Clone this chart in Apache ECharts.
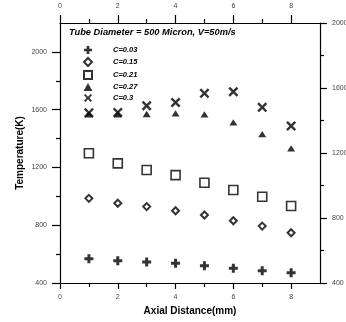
<!DOCTYPE html>
<html>
<head>
<meta charset="utf-8">
<script src="https://cdn.jsdelivr.net/npm/echarts@6/dist/echarts.min.js"></script>
<style>html,body{margin:0;padding:0;background:#fff}#c{width:346px;height:322px}</style>
</head>
<body>
<div id="c"></div>
<script>
// ---- data ----
var xValues = [1, 2, 3, 4, 5, 6, 7, 8];
var seriesNames = ['C=0.03', 'C=0.15', 'C=0.21', 'C=0.27', 'C=0.3'];
var c003 = [568, 554, 545, 536, 520, 502, 485, 471];
var c015 = [986, 952, 929, 900, 871, 831, 794, 748];
var c021 = [1298, 1228, 1182, 1147, 1094, 1044, 997, 933];
var c027 = [1567, 1567, 1570, 1574, 1567, 1512, 1431, 1332];
var c030 = [1578, 1581, 1627, 1650, 1713, 1724, 1616, 1487];
var xMajorTicks = [0, 2, 4, 6, 8];
var xMinorTicks = [1, 3, 5, 7];
var yMajorTicks = [400, 800, 1200, 1600, 2000];
var yMinorTicks = [600, 1000, 1400, 1800];
var titleText = 'Tube Diameter = 500 Micron, V=50m/s';

var FONT = 'Liberation Sans';
var symbols = [
  'path://M3,0H6V3H9V6H6V9H3V6H0V3H3Z',
  'path://M5,0L10,5L5,10L0,5Z',
  'path://M0,0H10V10H0Z',
  'path://M5,0L10,9L0,9Z',
  'path://M0,1.7L1.7,0L5,3.3L8.3,0L10,1.7L6.7,5L10,8.3L8.3,10L5,6.7L1.7,10L0,8.3L3.3,5Z'
];
var sizes = [[9, 9], [7, 7], [9, 9], [8, 7], [10, 10]];
var styles = [
  {color: '#000'},
  {color: '#fff', borderColor: '#000', borderWidth: 2},
  {color: '#fff', borderColor: '#000', borderWidth: 1.6},
  {color: '#000'},
  {color: '#000'}
];
var allData = [c003, c015, c021, c027, c030];

function pairs(ys) { return xValues.map(function (x, i) { return [x, ys[i]]; }); }
function plain(v) { return String(v); }

var lineStyle = {color: '#000', width: 1.2};
function mkAx(pos, min, max, ticks, len, labels, margin, extra) {
  var a = {
    type: 'value', position: pos, min: min, max: max, gridIndex: 0,
    splitLine: {show: false},
    axisLine: {show: !!labels, onZero: false, lineStyle: lineStyle},
    axisTick: {show: true, customValues: ticks, length: len, lineStyle: lineStyle},
    axisLabel: labels ? {show: true, customValues: labels, formatter: plain, fontSize: 7, color: '#444', margin: margin, fontFamily: FONT} : {show: false}
  };
  if (extra) for (var k in extra) a[k] = extra[k];
  return a;
}

var chart = echarts.init(document.getElementById('c'), null, {renderer: 'canvas'});
chart.setOption({
  animation: false,
  backgroundColor: '#fff',
  title: {
    text: titleText, left: 64, top: 23,
    textStyle: {fontSize: 9.3, fontWeight: 'bold', fontStyle: 'italic', fontFamily: FONT, color: '#000'}
  },
  legend: {
    orient: 'vertical', left: 78, top: 41,
    itemWidth: 40, itemHeight: 8, itemGap: 3,
    data: seriesNames,
    textStyle: {fontSize: 7.5, fontWeight: 'bold', fontStyle: 'italic', fontFamily: FONT, color: '#000', lineHeight: 8}
  },
  grid: {left: 60, top: 23, width: 260, height: 260, containLabel: false, outerBoundsMode: 'none'},
  xAxis: [
    mkAx('bottom', 0, 9, xMajorTicks, 6, xMajorTicks, 11, {
      name: 'Axial Distance(mm)', nameLocation: 'middle', nameGap: 23, nameMoveOverlap: false,
      nameTextStyle: {fontSize: 10, fontWeight: 'bold', fontFamily: FONT, color: '#000'}
    }),
    mkAx('bottom', 0, 9, xMinorTicks, 4, null),
    mkAx('top', 0, 9, xMajorTicks, 8, xMajorTicks, 13),
    mkAx('top', 0, 9, xMinorTicks, 4, null)
  ],
  yAxis: [
    mkAx('left', 400, 2200, yMajorTicks, 8, yMajorTicks, 13, {
      name: 'Temperature(K)', nameLocation: 'middle', nameGap: 35, nameMoveOverlap: false,
      nameTextStyle: {fontSize: 10, fontWeight: 'bold', fontFamily: FONT, color: '#000'}
    }),
    mkAx('left', 400, 2200, yMinorTicks, 4, null),
    mkAx('right', 400, 2000, yMajorTicks, 7, yMajorTicks, 12),
    mkAx('right', 400, 2000, yMinorTicks, 4, null)
  ],
  series: seriesNames.map(function (n, i) {
    return {
      name: n, type: 'scatter', xAxisIndex: 0, yAxisIndex: 0,
      symbol: symbols[i], symbolSize: sizes[i], symbolKeepAspect: true,
      itemStyle: styles[i],
      data: pairs(allData[i])
    };
  })
});
</script>
</body>
</html>
